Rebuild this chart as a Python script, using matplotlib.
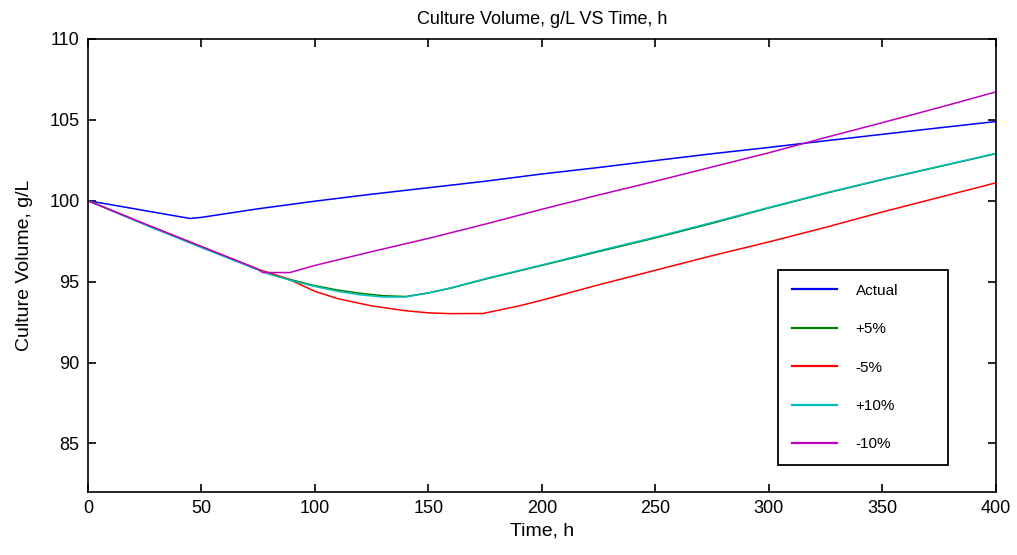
#Culture Volume vs Time - sensitivity chart
import matplotlib
matplotlib.use('Agg')
import matplotlib.pyplot as plt

#1. Dados
t_actual = [0, 45, 50, 75, 100, 125, 150, 175, 200, 225, 250, 275, 300, 325, 350, 375, 400]
v_actual = [100, 98.9, 98.97, 99.5, 99.97, 100.4, 100.8, 101.2, 101.65, 102.05, 102.48, 102.9, 103.29, 103.7, 104.1, 104.5, 104.89]

t_plus5 = [0, 25, 50, 75, 80, 90, 100, 110, 120, 130, 140, 150, 160, 175, 200, 225, 250, 275, 300, 325, 350, 375, 400]
v_plus5 = [100, 98.55, 97.15, 95.75, 95.5, 95.1, 94.75, 94.48, 94.28, 94.13, 94.08, 94.3, 94.6, 95.15, 96.0, 96.85, 97.7, 98.6, 99.55, 100.45, 101.3, 102.1, 102.9]

t_minus5 = [0, 25, 50, 75, 80, 90, 100, 110, 125, 140, 150, 160, 174, 190, 200, 225, 250, 275, 300, 325, 350, 375, 400]
v_minus5 = [100, 98.55, 97.15, 95.75, 95.55, 95.05, 94.4, 93.95, 93.5, 93.2, 93.07, 93.02, 93.03, 93.5, 93.85, 94.8, 95.7, 96.6, 97.45, 98.35, 99.3, 100.2, 101.1]

t_plus10 = [0, 25, 50, 75, 80, 90, 100, 110, 120, 130, 140, 150, 160, 175, 200, 225, 250, 275, 300, 325, 350, 375, 400]
v_plus10 = [100, 98.52, 97.1, 95.72, 95.45, 95.05, 94.7, 94.4, 94.18, 94.05, 94.05, 94.3, 94.62, 95.18, 96.03, 96.9, 97.75, 98.65, 99.58, 100.48, 101.32, 102.12, 102.92]

t_minus10 = [0, 25, 50, 75, 77, 89, 100, 125, 150, 175, 200, 225, 250, 275, 300, 325, 350, 375, 400]
v_minus10 = [100, 98.57, 97.17, 95.77, 95.56, 95.56, 96.0, 96.85, 97.67, 98.55, 99.47, 100.35, 101.2, 102.08, 102.96, 103.9, 104.82, 105.75, 106.72]

labels = ['Actual', '+5%', '-5%', '+10%', '-10%']
cores = ['#0000ff', '#008000', '#ff0000', '#00bfbf', '#bf00bf']

#2. Figura
plt.rcParams['font.family'] = ['Liberation Sans', 'DejaVu Sans']
fig = plt.figure(figsize=(10.17, 5.55), dpi=100)
ax = fig.add_axes([0.0865, 0.1135, 0.8925, 0.8165])

series = [(t_actual, v_actual), (t_plus5, v_plus5), (t_minus5, v_minus5),
          (t_plus10, v_plus10), (t_minus10, v_minus10)]
for (t, v), lab, c in zip(series, labels, cores):
    ax.plot(t, v, color=c, lw=1.1, label=lab)

ax.set_xlim(0, 400)
ax.set_ylim(82, 110)
ax.set_xticks(range(0, 401, 50))
ax.set_yticks(range(85, 111, 5))
ax.tick_params(direction='in', length=6, width=1.2, top=True, right=True, labelsize=13, pad=6)
for s in ax.spines.values():
    s.set_linewidth(1.2)

ax.set_title('Culture Volume, g/L VS Time, h', fontsize=13, pad=11)
ax.set_xlabel('Time, h', fontsize=14, labelpad=4)
ax.set_ylabel('Culture Volume, g/L', fontsize=14, labelpad=12)

leg = ax.legend(loc='upper left', bbox_to_anchor=(0.76, 0.062, 0.187, 0.428), mode='expand',
                borderaxespad=0, labelspacing=1.6, handlelength=3.0, handletextpad=1.2,
                borderpad=0.9, fancybox=False, framealpha=1, edgecolor='black',
                prop={'family': ['Liberation Sans'], 'size': 11})
leg.get_frame().set_linewidth(1.3)
for h in leg.get_lines():
    h.set_linewidth(1.6)

fig.savefig('out.png', dpi=100)
